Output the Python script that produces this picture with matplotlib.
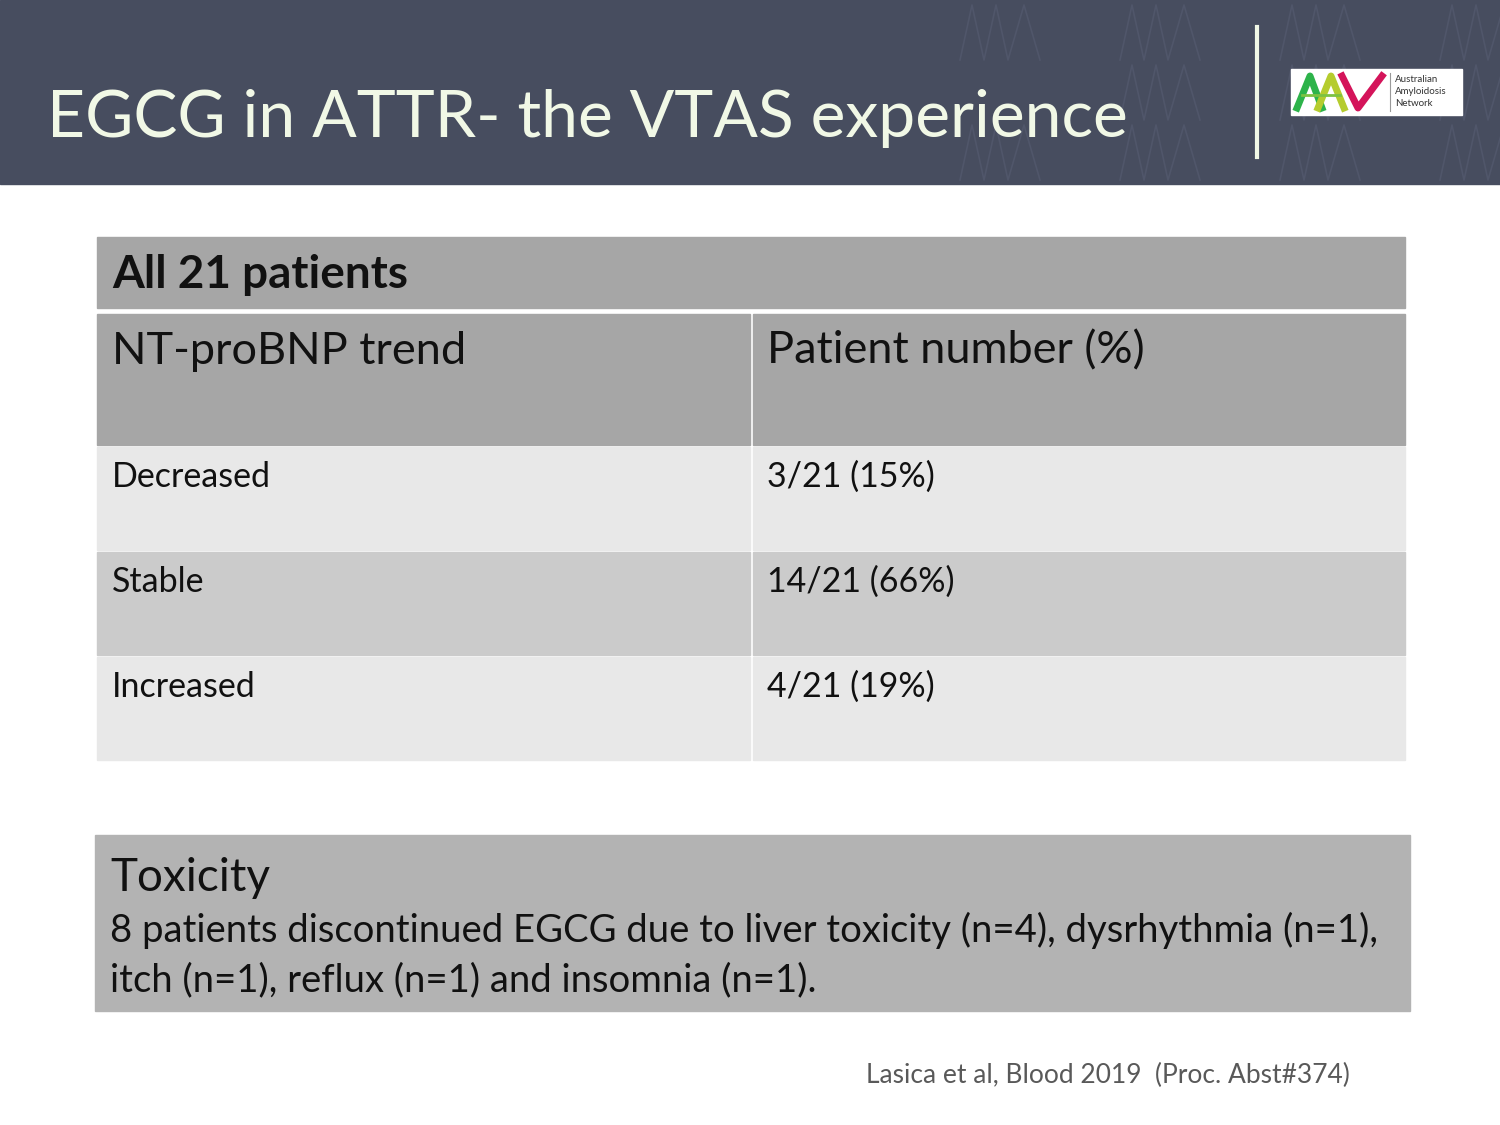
import matplotlib.pyplot as plt
from matplotlib.patches import Rectangle

# slide content
title = "EGCG in ATTR- the VTAS experience"
group_label = "All 21 patients"
col_headers = ["NT-proBNP trend", "Patient number (%)"]
trends = ["Decreased", "Stable", "Increased"]
counts = [3, 14, 4]
total = 21
percents = [15, 66, 19]
tox_title = "Toxicity"
tox_lines = ["8 patients discontinued EGCG due to liver toxicity (n=4), dysrhythmia (n=1),",
             "itch (n=1), reflux (n=1) and insomnia (n=1)."]
source = "Lasica et al, Blood 2019  (Proc. Abst#374)"

plt.rcParams['font.family'] = ['Lato', 'DejaVu Sans']

fig = plt.figure(figsize=(15, 11.25), dpi=100)
ax = fig.add_axes([0, 0, 1, 1])
ax.set_xlim(0, 1500)
ax.set_ylim(1125, 0)
ax.axis('off')

# header band
header = Rectangle((0, 0), 1500, 184, color='#474d5f', zorder=0)
ax.add_patch(header)
# faint zigzag pattern (logo motif) on the right of the header
for r, (ytop, ybot) in enumerate([(5, 60), (65, 120), (125, 180)]):
    x = 960 if r % 2 == 0 else 1120
    while x < 1500:
        xs = [x, x + 12, x + 24, x + 36, x + 48, x + 64, x + 80]
        ys = [ybot, ytop, ybot, ytop, ybot, ytop, ybot]
        ln, = ax.plot(xs, ys, color='#50566a', lw=1.2, zorder=1)
        ln.set_clip_path(header)
        x += 160 if x + 160 < 1500 else 1000
ax.text(47, 118, title, fontsize=47.5, color='#f1f8e6', va='center', ha='left', zorder=3)
ax.plot([1257, 1257], [27, 157], color='#f1f8e6', lw=3, zorder=3)

# logo
ax.add_patch(Rectangle((1291, 69), 171, 46, color='white', zorder=3))
ax.plot([1297, 1310, 1322], [108, 76, 108], color='#2db34a', lw=5, zorder=4)
ax.plot([1318, 1331, 1344], [108, 76, 108], color='#b5cc2e', lw=5, zorder=4)
ax.plot([1302, 1340], [95, 95], color='#7cc242', lw=2, zorder=4)
ax.plot([1342, 1358, 1382], [76, 108, 76], color='#d4145a', lw=5, zorder=4)
ax.plot([1390, 1390], [73, 111], color='#999999', lw=0.8, zorder=4)
for i, w in enumerate(["Australian", "Amyloidosis", "Network"]):
    ax.text(1395, 79 + i * 12.5, w, fontsize=7, color='#333333', va='center', ha='left',
            zorder=4)

# table
left, mid, right = 97, 751, 1405
ax.add_patch(Rectangle((left, 237), right - left, 71, color='#a6a6a6'))
ax.text(left + 15, 275, group_label, fontsize=33, fontweight='bold', color='#111111',
        va='center', ha='left')

row_tops = [314, 447, 552, 657]
row_bots = [445, 550, 655, 760]
row_colors = ['#a6a6a6', '#e8e8e8', '#cbcbcb', '#e8e8e8']
cells = [col_headers] + [[t, f"{c}/{total} ({p}%)"] for t, c, p in zip(trends, counts, percents)]
for i, (top, bot, col, row) in enumerate(zip(row_tops, row_bots, row_colors, cells)):
    ax.add_patch(Rectangle((left, top), mid - left - 1, bot - top, color=col))
    ax.add_patch(Rectangle((mid + 2, top), right - mid - 2, bot - top, color=col))
    fs = 32.5 if i == 0 else 24.5
    ty = top + (37 if i == 0 else 30)
    ax.text(left + 15, ty, row[0], fontsize=fs, color='#111111', va='center', ha='left')
    ax.text(mid + 16, ty, row[1], fontsize=fs, color='#111111', va='center', ha='left')

# toxicity box
ax.add_patch(Rectangle((95, 835), 1315, 176, color='#b3b3b3'))
ax.text(110, 878, tox_title, fontsize=33, color='#111111', va='center', ha='left')
for i, line in enumerate(tox_lines):
    ax.text(110, 930 + i * 50, line, fontsize=27.5, color='#111111', va='center', ha='left')

ax.text(866, 1075, source, fontsize=19, color='#595959', va='center', ha='left')

fig.savefig('out.png', dpi=100)
